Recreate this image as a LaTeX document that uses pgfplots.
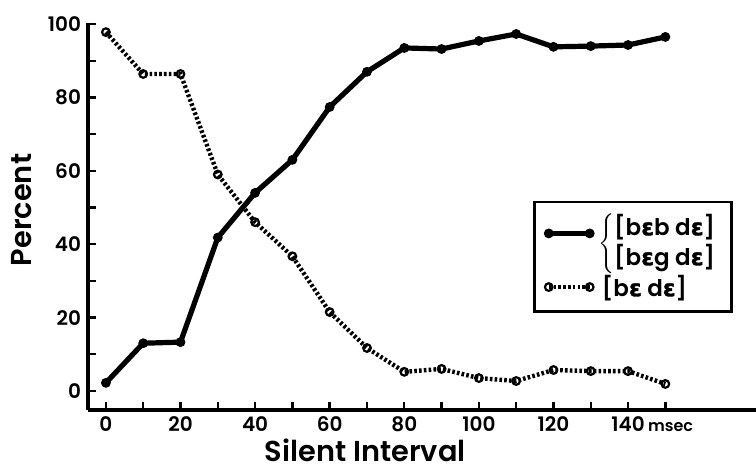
\documentclass[border=0pt]{standalone}
\usepackage{pgfplots}
\pgfplotsset{compat=1.18}
\usepackage{fontspec}
\setmainfont{Poppins}[BoldFont={Poppins SemiBold}]
\newfontfamily\ipa{DejaVu Sans}[FakeBold=1.5]
\begin{document}
\begin{tikzpicture}
\begin{axis}[name=ax,
  scale only axis, width=334pt, height=193.5pt,
  xmin=-4.8, xmax=174.3, ymin=-5.2, ymax=100.3,
  axis x line*=bottom, axis y line*=left,
  axis line style={line width=1.6pt},
  xtick={0,10,...,150},
  xticklabels={0,,20,,40,,60,,80,,100,,120,,140\rlap{\,\footnotesize msec},},
  ytick={0,10,...,100},
  yticklabels={0,,20,,40,,60,,80,,100},
  tick align=inside, major tick length=4pt,
  tick style={line width=1.2pt, black},
  tick label style={font=\bfseries},
  /pgf/number format/assume math mode=true,
  xlabel={Silent Interval}, ylabel={Percent},
  xlabel style={at={(axis description cs:0.415,-0.105)}, anchor=center, font=\Large\bfseries},
  ylabel style={at={(axis description cs:-0.099,0.517)}, anchor=center, font=\Large\bfseries},
  clip=false,
  legend style={at={(axis cs:114.5,51.9)}, anchor=north west, draw=black, line width=1.4pt,
    fill=none, font=\fontsize{11.5}{14.5}\selectfont\bfseries, inner xsep=5pt, inner ysep=4pt,
    row sep=7pt},
  legend cell align=left,
  legend image code/.code={\draw[#1, mark repeat=1] plot coordinates {(0cm,0cm) (0.72cm,0cm)};},
]
\addplot[black, line width=2.6pt, mark=*, mark size=2.2pt, mark options={solid, line width=0.5pt}]
coordinates {(0,2.2) (10,13.0) (20,13.3) (30,41.8) (40,54) (50,63) (60,77.4) (70,87)
 (80,93.5) (90,93.2) (100,95.4) (110,97.3) (120,93.8) (130,94) (140,94.3) (150,96.5)};
\addlegendentry{$\left\{\mbox{\begin{tabular}{@{}l@{}}{[}b{\ipa ɛ}b d{\ipa ɛ}{]}\\{[}b{\ipa ɛ}g d{\ipa ɛ}{]}\end{tabular}}\right.$}
\addplot[black, line width=2.2pt, dash pattern=on 1.3pt off 1.1pt, mark=o, mark size=1.9pt,
  mark options={solid, line width=1.1pt, fill=white}]
coordinates {(0,97.8) (10,86.4) (20,86.4) (30,59) (40,46) (50,36.7) (60,21.5) (70,11.7)
 (80,5.2) (90,6) (100,3.5) (110,2.7) (120,5.7) (130,5.4) (140,5.4) (150,1.9)};
\addlegendentry{\,{[}b{\ipa ɛ} d{\ipa ɛ}{]}}
\end{axis}
\pgfresetboundingbox
\path[use as bounding box] ([shift={(-44pt,-30pt)}]ax.south west) rectangle ([shift={(0pt,11.5pt)}]ax.north east);
\end{tikzpicture}
\end{document}
